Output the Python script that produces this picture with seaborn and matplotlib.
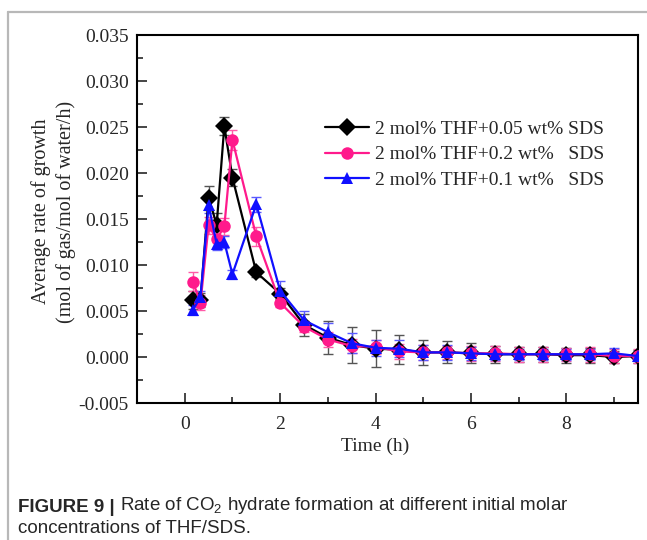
import numpy as np
import pandas as pd
import matplotlib
matplotlib.use("Agg")
import matplotlib.pyplot as plt
import seaborn as sns
from matplotlib.lines import Line2D
from matplotlib.ticker import MultipleLocator, FormatStrFormatter

# time points (h)
time_h = [0.17, 0.33, 0.5, 0.67, 0.83, 1.0, 1.5, 2, 2.5, 3, 3.5, 4, 4.5,
          5, 5.5, 6, 6.5, 7, 7.5, 8, 8.5, 9, 9.5]

labels = ["2 mol% THF+0.05 wt% SDS",
          "2 mol% THF+0.2 wt%   SDS",
          "2 mol% THF+0.1 wt%   SDS"]

rate_005 = [0.0062, 0.0062, 0.0173, 0.0144, 0.0251, 0.0195, 0.0092, 0.0069, 0.0035,
            0.0021, 0.0013, 0.0009, 0.0008, 0.0005, 0.0005, 0.0004, 0.0003, 0.0003,
            0.0003, 0.0002, 0.0002, 0.0000, 0.0001]
err_005 = [0.0010, 0.0008, 0.0013, 0.0012, 0.0010, 0.0009, 0.0005, 0.0006, 0.0012,
           0.0018, 0.0020, 0.0020, 0.0016, 0.0014, 0.0012, 0.0011, 0.0009, 0.0008,
           0.0008, 0.0008, 0.0008, 0.0007, 0.0007]

rate_02 = [0.0082, 0.0059, 0.0143, 0.0128, 0.0142, 0.0236, 0.0131, 0.0059, 0.0033,
           0.0019, 0.0012, 0.0011, 0.0006, 0.0005, 0.0005, 0.0004, 0.0004, 0.0003,
           0.0003, 0.0003, 0.0003, 0.0001, 0.0001]
err_02 = [0.0010, 0.0008, 0.0009, 0.0009, 0.0009, 0.0011, 0.0010, 0.0005, 0.0006,
          0.0008, 0.0008, 0.0008, 0.0008, 0.0008, 0.0007, 0.0008, 0.0008, 0.0008,
          0.0008, 0.0007, 0.0008, 0.0008, 0.0008]

rate_01 = [0.0051, 0.0065, 0.0165, 0.0123, 0.0125, 0.0090, 0.0166, 0.0072, 0.0040,
           0.0027, 0.0015, 0.0010, 0.0009, 0.0005, 0.0005, 0.0004, 0.0003, 0.0003,
           0.0003, 0.0003, 0.0003, 0.0004, 0.0001]
err_01 = [0.0005, 0.0007, 0.0008, 0.0007, 0.0006, 0.0005, 0.0008, 0.0011, 0.0010,
          0.0010, 0.0011, 0.0009, 0.0009, 0.0008, 0.0008, 0.0007, 0.0006, 0.0006,
          0.0006, 0.0006, 0.0006, 0.0006, 0.0005]

colors = ["#000000", "#ff1a8c", "#1010ff"]
err_colors = ["#555555", "#ff5aa8", "#5a5aff"]
markers = ["D", "o", "^"]

df = pd.DataFrame({
    "time": time_h * 3,
    "rate": rate_005 + rate_02 + rate_01,
    "err": err_005 + err_02 + err_01,
    "series": [labels[0]] * len(time_h) + [labels[1]] * len(time_h) + [labels[2]] * len(time_h),
})

sns.set_style("ticks")
plt.rcParams["font.family"] = ["Liberation Serif", "DejaVu Serif"]
plt.rcParams["axes.unicode_minus"] = False
plt.rcParams["mathtext.fontset"] = "custom"
plt.rcParams["mathtext.rm"] = "Liberation Sans"

fig = plt.figure(figsize=(6.47, 5.40), dpi=100)
ax = fig.add_axes([137 / 647, 1 - 403 / 540, 501 / 647, 368 / 540])

# error bars first, lines on top
for lab, ec in zip(labels, err_colors):
    sub = df[df["series"] == lab]
    ax.errorbar(sub["time"], sub["rate"], yerr=sub["err"], fmt="none",
                ecolor=ec, elinewidth=1.0, capsize=3.5, capthick=1.0, zorder=2)

sns.lineplot(data=df, x="time", y="rate", hue="series", style="series",
             hue_order=labels, style_order=labels, palette=colors,
             markers=markers, dashes=False, errorbar=None, sort=False,
             linewidth=1.6, markersize=9, markeredgewidth=0, ax=ax, zorder=3)

ax.set_xlim(-1, 9.5)
ax.set_ylim(-0.005, 0.035)
ax.xaxis.set_major_locator(MultipleLocator(2))
ax.xaxis.set_minor_locator(MultipleLocator(1))
ax.yaxis.set_major_locator(MultipleLocator(0.005))
ax.yaxis.set_minor_locator(MultipleLocator(0.0025))
ax.yaxis.set_major_formatter(FormatStrFormatter("%.3f"))
ax.tick_params(which="both", direction="in", labelsize=14, width=1.2)
ax.tick_params(axis="y", which="major", pad=6)
ax.tick_params(axis="x", which="major", pad=9.5)
ax.tick_params(which="major", length=7)
ax.tick_params(which="minor", length=4)
for sp in ax.spines.values():
    sp.set_linewidth(1.5)
    sp.set_color("black")

ax.set_xlabel("Time (h)", fontsize=14)
ax.xaxis.set_label_coords(0.475, -0.093)
ax.set_ylabel("Average rate of growth\n(mol of gas/mol of water/h)", fontsize=14.5,
              linespacing=1.3)
ax.yaxis.set_label_coords(-0.122, 0.52)

leg = ax.legend(loc="upper left", bbox_to_anchor=(0.359, 0.789), frameon=False,
                fontsize=14, handlelength=2.3, handletextpad=0.3,
                labelspacing=0.4, borderaxespad=0)

# figure frame (gray lines on left and top)
fig.add_artist(Line2D([8.0 / 647, 8.0 / 647], [0, 1 - 12 / 540], color="#b8b8b8", lw=1.6))
fig.add_artist(Line2D([8.0 / 647, 1], [1 - 12 / 540, 1 - 12 / 540], color="#b8b8b8", lw=1.6))

# caption
cap_font = ["Liberation Sans", "DejaVu Sans"]
cap1 = fig.text(18 / 647, 1 - 512 / 540, "FIGURE 9 | ", fontsize=13.5, weight="bold",
                family=cap_font, color="#262626", va="baseline")
ax.annotate("Rate of CO$_2$ hydrate formation at different initial molar",
            xy=(1, 0), xycoords=cap1, va="bottom", ha="left", fontsize=13.5,
            family=cap_font, color="#262626", annotation_clip=False)
fig.text(18 / 647, 1 - 533 / 540, "concentrations of THF/SDS.", fontsize=13.5,
         family=cap_font, color="#262626", va="baseline")

fig.savefig("out.png", dpi=100, facecolor="white")
